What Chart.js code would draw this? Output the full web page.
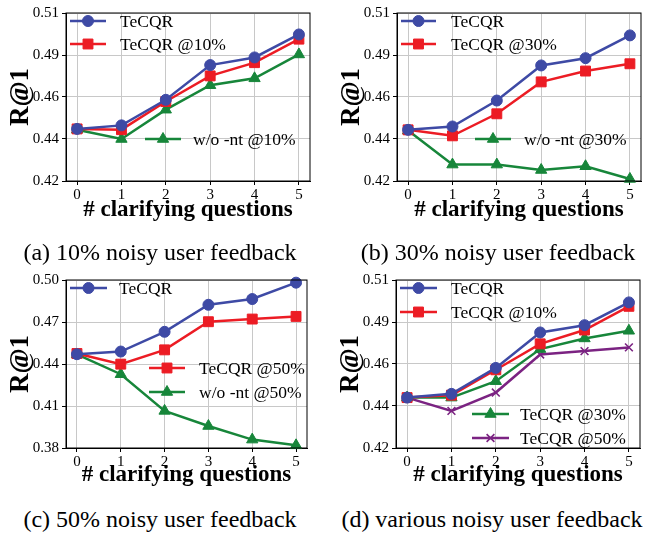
<!DOCTYPE html>
<html>
<head>
<meta charset="utf-8">
<script src="https://cdn.jsdelivr.net/npm/chart.js@4.4.1/dist/chart.umd.min.js"></script>
<style>
  html,body{margin:0;padding:0;background:#fff;}
  #wrap{position:relative;width:654px;height:533px;overflow:hidden;}
  .cv{position:absolute;}
  .cap{position:absolute;font-family:"Liberation Serif","Times New Roman",serif;font-size:24px;line-height:28px;color:#000;white-space:nowrap;transform:translateX(-50%);}
</style>
</head>
<body>
<div id="wrap">
  <div class="cv" style="left:0;top:0;width:327px;height:240px;"><canvas id="ca"></canvas></div>
  <div class="cv" style="left:327px;top:0;width:327px;height:240px;"><canvas id="cb"></canvas></div>
  <div class="cv" style="left:0;top:265px;width:327px;height:240px;"><canvas id="cc"></canvas></div>
  <div class="cv" style="left:327px;top:265px;width:327px;height:240px;"><canvas id="cd"></canvas></div>
  <div class="cap" style="left:160px;top:238px;">(a) 10% noisy user feedback</div>
  <div class="cap" style="left:498px;top:238px;">(b) 30% noisy user feedback</div>
  <div class="cap" style="left:160px;top:505px;">(c) 50% noisy user feedback</div>
  <div class="cap" style="left:492px;top:505px;">(d) various noisy user feedback</div>
</div>
<script>
// ---- data ----
const xValues = [0, 1, 2, 3, 4, 5];

const tecqrA   = [0.4479, 0.4498, 0.4635, 0.4821, 0.4862, 0.4985];
const tecqr10A = [0.4479, 0.4475, 0.4626, 0.4763, 0.4834, 0.4960];
const wont10A  = [0.4475, 0.4425, 0.4582, 0.4713, 0.4750, 0.4878];

const tecqrB   = [0.4474, 0.4492, 0.4631, 0.4819, 0.4858, 0.4980];
const tecqr30B = [0.4474, 0.4442, 0.4560, 0.4731, 0.4789, 0.4828];
const wont30B  = [0.4470, 0.4288, 0.4288, 0.4259, 0.4279, 0.4211];

const tecqrC   = [0.4470, 0.4489, 0.4630, 0.4823, 0.4864, 0.4981];
const tecqr50C = [0.4475, 0.4399, 0.4501, 0.4702, 0.4721, 0.4740];
const wont50C  = [0.4468, 0.4327, 0.4065, 0.3957, 0.3860, 0.3819];

const tecqrD   = [0.4470, 0.4490, 0.4629, 0.4819, 0.4858, 0.4980];
const tecqr10D = [0.4470, 0.4483, 0.4619, 0.4758, 0.4832, 0.4959];
const tecqr30D = [0.4470, 0.4470, 0.4558, 0.4730, 0.4787, 0.4828];
const tecqr50D = [0.4470, 0.4399, 0.4497, 0.4701, 0.4719, 0.4739];

const yTicksABD = [0.42, 0.4425, 0.465, 0.4875, 0.51];
const yTickLabelsABD = ['0.42', '0.44', '0.46', '0.49', '0.51'];
const yTicksC = [0.38, 0.41, 0.44, 0.47, 0.50];
const yTickLabelsC = ['0.38', '0.41', '0.44', '0.47', '0.50'];
const xTickLabels = ['0', '1', '2', '3', '4', '5'];

const xTitle = '# clarifying questions';
const yTitle = 'R@1';

// ---- styles ----
const FONT = '"Liberation Serif","Times New Roman",serif';
const BLUE = '#3E4AA5', RED = '#EC1C24', GREEN = '#17863A', PURPLE = '#7B2382';
const styleBlue   = {borderColor: BLUE, backgroundColor: BLUE, pointStyle: 'circle', pointRadius: 5.5};
const styleRed    = {borderColor: RED, backgroundColor: RED, pointStyle: 'rect', pointRadius: 7};
const styleGreen  = {borderColor: GREEN, backgroundColor: GREEN, pointStyle: 'triangle', pointRadius: 6.5};
const stylePurple = {borderColor: PURPLE, backgroundColor: PURPLE, pointStyle: 'crossRot', pointRadius: 5.5, pointBorderWidth: 1.6};

function ds(label, vals, st) {
  return Object.assign({
    label: label,
    data: vals.map((v, i) => ({x: xValues[i], y: v})),
    borderWidth: 2.5,
    pointBorderWidth: 1,
    pointHoverRadius: st.pointRadius,
    clip: false,
    tension: 0
  }, st);
}

const decor = {
  id: 'decor',
  afterDatasetsDraw(chart, args, opts) {
    const ctx = chart.ctx, a = chart.chartArea;
    ctx.save();
    ctx.strokeStyle = '#000';
    ctx.lineWidth = 1;
    ctx.strokeRect(a.left, a.top, a.right - a.left, a.bottom - a.top);
    (opts.entries || []).forEach(e => {
      const d = chart.data.datasets[e.ds];
      ctx.strokeStyle = d.borderColor;
      ctx.fillStyle = d.backgroundColor;
      ctx.lineWidth = 2.5;
      ctx.beginPath();
      ctx.moveTo(e.x1, e.y); ctx.lineTo(e.x2, e.y);
      ctx.stroke();
      ctx.lineWidth = d.pointBorderWidth || 1;
      Chart.helpers.drawPoint(ctx, {pointStyle: d.pointStyle, radius: d.pointRadius, rotation: 0, borderWidth: d.pointBorderWidth || 1}, (e.x1 + e.x2) / 2, e.y);
      ctx.fillStyle = '#000';
      ctx.font = '17.5px ' + FONT;
      ctx.textBaseline = 'middle';
      ctx.textAlign = 'left';
      ctx.fillText(d.label, e.tx, e.y + 1);
    });
    ctx.restore();
  }
};

function makeChart(id, datasets, yMin, yMax, yTicks, yLabels, pad, yWidth, xHeight, entries) {
  return new Chart(document.getElementById(id), {
    type: 'line',
    data: {datasets: datasets},
    plugins: [decor],
    options: {
      responsive: true,
      maintainAspectRatio: false,
      animation: false,
      events: [],
      layout: {padding: pad},
      plugins: {legend: {display: false}, tooltip: {enabled: false}, decor: {entries: entries}},
      scales: {
        x: {
          type: 'linear', min: -0.25, max: 5.25,
          afterBuildTicks: s => { s.ticks = xValues.map(v => ({value: v})); },
          afterFit: s => { s.height = xHeight; },
          ticks: {color: '#000', font: {family: FONT, size: 15}, padding: 1, maxRotation: 0,
                  callback: (v, i) => xTickLabels[i]},
          grid: {color: '#c8c8c8', lineWidth: 1, borderDash: [1.5, 1.5], tickColor: '#000', tickLength: 4, tickBorderDash: [], tickWidth: 1},
          border: {display: true, color: '#000', width: 1},
          title: {display: true, text: xTitle, color: '#000', font: {family: FONT, size: 23, weight: 'bold'}, padding: {top: 0, bottom: 16}}
        },
        y: {
          type: 'linear', min: yMin, max: yMax,
          afterBuildTicks: s => { s.ticks = yTicks.map(v => ({value: v})); },
          afterFit: s => { s.width = yWidth; },
          ticks: {color: '#000', font: {family: FONT, size: 15}, padding: 3,
                  callback: (v, i) => yLabels[i]},
          grid: {color: '#c8c8c8', lineWidth: 1, borderDash: [1.5, 1.5], tickColor: '#000', tickLength: 4, tickBorderDash: [], tickWidth: 1},
          border: {display: true, color: '#000', width: 1},
          title: {display: true, text: yTitle, color: '#000', font: {family: FONT, size: 27, weight: 'bold'}, padding: {top: 5, bottom: 0}}
        }
      }
    }
  });
}

// (a)
makeChart('ca', [
  ds('TeCQR', tecqrA, styleBlue),
  ds('TeCQR @10%', tecqr10A, styleRed),
  ds('w/o -nt @10%', wont10A, styleGreen)
], 0.42, 0.51, yTicksABD, yTickLabelsABD, {left: 0, top: 13, right: 17, bottom: 0}, 66, 59,
[{ds: 0, x1: 70, x2: 106, tx: 120, y: 21}, {ds: 1, x1: 70, x2: 106, tx: 120, y: 44}, {ds: 2, x1: 145, x2: 181, tx: 193, y: 139}]);

// (b)
makeChart('cb', [
  ds('TeCQR', tecqrB, styleBlue),
  ds('TeCQR @30%', tecqr30B, styleRed),
  ds('w/o -nt @30%', wont30B, styleGreen)
], 0.42, 0.51, yTicksABD, yTickLabelsABD, {left: 4, top: 13, right: 13, bottom: 0}, 66, 59,
[{ds: 0, x1: 74, x2: 109, tx: 124, y: 21}, {ds: 1, x1: 74, x2: 109, tx: 124, y: 44}, {ds: 2, x1: 148, x2: 184, tx: 197, y: 139}]);

// (c)
makeChart('cc', [
  ds('TeCQR', tecqrC, styleBlue),
  ds('TeCQR @50%', tecqr50C, styleRed),
  ds('w/o -nt @50%', wont50C, styleGreen)
], 0.38, 0.50, yTicksC, yTickLabelsC, {left: 0, top: 15, right: 20, bottom: 0}, 66, 57,
[{ds: 0, x1: 70, x2: 107, tx: 119, y: 23}, {ds: 1, x1: 149, x2: 185, tx: 199, y: 103}, {ds: 2, x1: 149, x2: 185, tx: 199, y: 127}]);

// (d)
makeChart('cd', [
  ds('TeCQR', tecqrD, styleBlue),
  ds('TeCQR @10%', tecqr10D, styleRed),
  ds('TeCQR @30%', tecqr30D, styleGreen),
  ds('TeCQR @50%', tecqr50D, stylePurple)
], 0.42, 0.51, yTicksABD, yTickLabelsABD, {left: 3, top: 15, right: 14, bottom: 0}, 66, 57,
[{ds: 0, x1: 73, x2: 110, tx: 124, y: 23}, {ds: 1, x1: 73, x2: 110, tx: 124, y: 47}, {ds: 2, x1: 145, x2: 182, tx: 193, y: 149}, {ds: 3, x1: 145, x2: 182, tx: 193, y: 173}]);
</script>
</body>
</html>
